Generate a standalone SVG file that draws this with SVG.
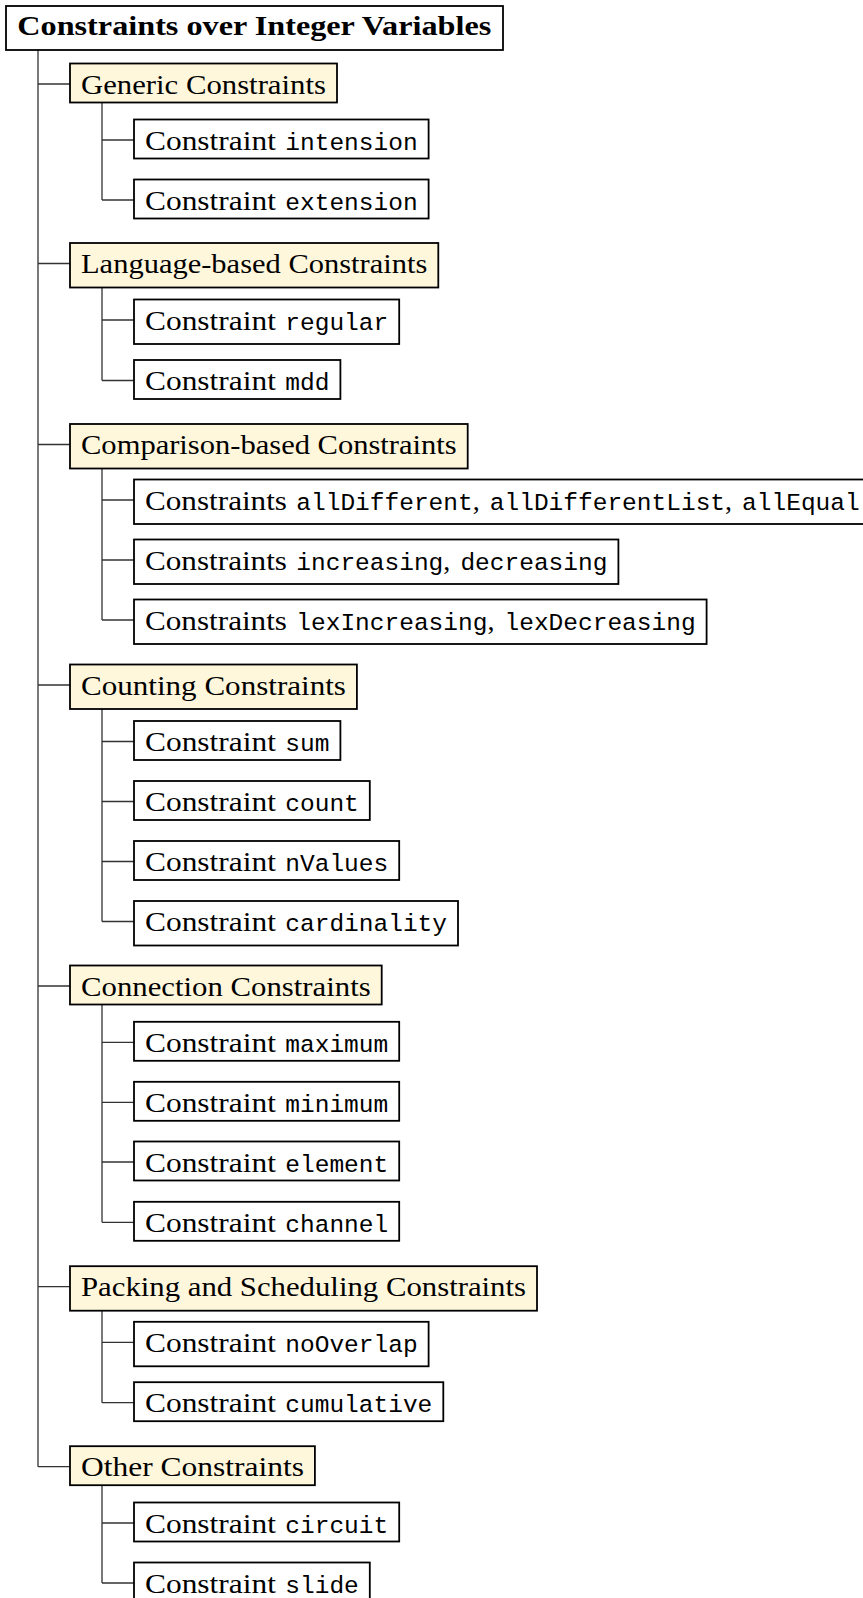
<svg xmlns="http://www.w3.org/2000/svg" width="863" height="1598" viewBox="0 0 863 1598">
<style>
g rect{stroke:#000;stroke-width:1.8}
.root rect,.leaf rect{fill:#fff}
.cat rect{fill:#FFF7DC}
text{fill:#000}
.s{font-family:"Liberation Serif","Times New Roman",serif;font-size:28px}
.b{font-family:"Liberation Serif","Times New Roman",serif;font-size:28px;font-weight:bold}
.m{font-family:"Liberation Mono","Courier New",monospace;font-size:24.5px}
#connectors path{fill:none;stroke:#333;stroke-width:1.3}
</style>
<rect width="863" height="1598" fill="#fff"/>
<g id="connectors">
<path d="M38 50V1466.7 M38 84H70 M38 263.5H70 M38 444.5H70 M38 685H70 M38 986H70 M38 1286.7H70 M38 1466.7H70"/>
<path d="M102 102.5V200 M102 140H134 M102 200H134"/>
<path d="M102 287.5V380.5 M102 320H134 M102 380.5H134"/>
<path d="M102 468.5V620 M102 500H134 M102 560H134 M102 620H134"/>
<path d="M102 709V921.5 M102 741.5H134 M102 801.5H134 M102 861.5H134 M102 921.5H134"/>
<path d="M102 1004.5V1222.3 M102 1042.3H134 M102 1102.3H134 M102 1162H134 M102 1222.3H134"/>
<path d="M102 1310.7V1402.7 M102 1342.3H134 M102 1402.7H134"/>
<path d="M102 1485.2V1583 M102 1523H134 M102 1583H134"/>
</g>
<g id="root" class="root"><rect x="6" y="6" width="497" height="44"/><text class="b" x="17.3" y="35" textLength="474" lengthAdjust="spacingAndGlyphs">Constraints over Integer Variables</text></g>

<g id="generic" class="cat"><rect x="70" y="63.5" width="267" height="39"/><text class="s" x="81" y="93.5" textLength="244.9" lengthAdjust="spacingAndGlyphs">Generic Constraints</text></g>
<g id="intension" class="leaf"><rect x="134" y="119.5" width="294.6" height="39"/><text class="s" x="145" y="149.5" textLength="130.9" lengthAdjust="spacingAndGlyphs">Constraint</text><text class="m" x="285.3" y="149.5">intension</text></g>
<g id="extension" class="leaf"><rect x="134" y="179.5" width="294.6" height="39"/><text class="s" x="145" y="209.5" textLength="130.9" lengthAdjust="spacingAndGlyphs">Constraint</text><text class="m" x="285.3" y="209.5">extension</text></g>

<g id="language" class="cat"><rect x="70" y="243" width="368.3" height="44.5"/><text class="s" x="81" y="273" textLength="346.3" lengthAdjust="spacingAndGlyphs">Language-based Constraints</text></g>
<g id="regular" class="leaf"><rect x="134" y="299.5" width="265.2" height="44.5"/><text class="s" x="145" y="329.5" textLength="130.9" lengthAdjust="spacingAndGlyphs">Constraint</text><text class="m" x="285.3" y="329.5">regular</text></g>
<g id="mdd" class="leaf"><rect x="134" y="360" width="206.4" height="39"/><text class="s" x="145" y="390" textLength="130.9" lengthAdjust="spacingAndGlyphs">Constraint</text><text class="m" x="285.3" y="390">mdd</text></g>

<g id="comparison" class="cat"><rect x="70" y="424" width="397.7" height="44.5"/><text class="s" x="81" y="454" textLength="375.7" lengthAdjust="spacingAndGlyphs">Comparison-based Constraints</text></g>
<g id="alldifferent" class="leaf"><rect x="134" y="479.5" width="736.7" height="44.5"/><text class="s" x="145" y="509.5" textLength="142" lengthAdjust="spacingAndGlyphs">Constraints</text><text class="m" x="296.3" y="509.5">allDifferent</text><text class="s" x="472.7" y="509.5">,</text><text class="m" x="489.8" y="509.5">allDifferentList</text><text class="s" x="725" y="509.5">,</text><text class="m" x="742.1" y="509.5">allEqual</text></g>
<g id="increasing" class="leaf"><rect x="134" y="539.5" width="484.4" height="44.5"/><text class="s" x="145" y="569.5" textLength="142" lengthAdjust="spacingAndGlyphs">Constraints</text><text class="m" x="296.3" y="569.5">increasing</text><text class="s" x="443.3" y="569.5">,</text><text class="m" x="460.4" y="569.5">decreasing</text></g>
<g id="lex" class="leaf"><rect x="134" y="599.5" width="572.6" height="44.5"/><text class="s" x="145" y="629.5" textLength="142" lengthAdjust="spacingAndGlyphs">Constraints</text><text class="m" x="296.3" y="629.5">lexIncreasing</text><text class="s" x="487.4" y="629.5">,</text><text class="m" x="504.5" y="629.5">lexDecreasing</text></g>

<g id="counting" class="cat"><rect x="70" y="664.5" width="286.9" height="44.5"/><text class="s" x="81" y="694.5" textLength="264.9" lengthAdjust="spacingAndGlyphs">Counting Constraints</text></g>
<g id="sum" class="leaf"><rect x="134" y="721" width="206.4" height="39"/><text class="s" x="145" y="751" textLength="130.9" lengthAdjust="spacingAndGlyphs">Constraint</text><text class="m" x="285.3" y="751">sum</text></g>
<g id="count" class="leaf"><rect x="134" y="781" width="235.8" height="39"/><text class="s" x="145" y="811" textLength="130.9" lengthAdjust="spacingAndGlyphs">Constraint</text><text class="m" x="285.3" y="811">count</text></g>
<g id="nvalues" class="leaf"><rect x="134" y="841" width="265.2" height="39"/><text class="s" x="145" y="871" textLength="130.9" lengthAdjust="spacingAndGlyphs">Constraint</text><text class="m" x="285.3" y="871">nValues</text></g>
<g id="cardinality" class="leaf"><rect x="134" y="901" width="324" height="44.5"/><text class="s" x="145" y="931" textLength="130.9" lengthAdjust="spacingAndGlyphs">Constraint</text><text class="m" x="285.3" y="931">cardinality</text></g>

<g id="connection" class="cat"><rect x="70" y="965.5" width="311.7" height="39"/><text class="s" x="81" y="995.5" textLength="289.7" lengthAdjust="spacingAndGlyphs">Connection Constraints</text></g>
<g id="maximum" class="leaf"><rect x="134" y="1021.8" width="265.2" height="39"/><text class="s" x="145" y="1051.8" textLength="130.9" lengthAdjust="spacingAndGlyphs">Constraint</text><text class="m" x="285.3" y="1051.8">maximum</text></g>
<g id="minimum" class="leaf"><rect x="134" y="1081.8" width="265.2" height="39"/><text class="s" x="145" y="1111.8" textLength="130.9" lengthAdjust="spacingAndGlyphs">Constraint</text><text class="m" x="285.3" y="1111.8">minimum</text></g>
<g id="element" class="leaf"><rect x="134" y="1141.5" width="265.2" height="39"/><text class="s" x="145" y="1171.5" textLength="130.9" lengthAdjust="spacingAndGlyphs">Constraint</text><text class="m" x="285.3" y="1171.5">element</text></g>
<g id="channel" class="leaf"><rect x="134" y="1201.8" width="265.2" height="39"/><text class="s" x="145" y="1231.8" textLength="130.9" lengthAdjust="spacingAndGlyphs">Constraint</text><text class="m" x="285.3" y="1231.8">channel</text></g>

<g id="packing" class="cat"><rect x="70" y="1266.2" width="467" height="44.5"/><text class="s" x="81" y="1296.2" textLength="445" lengthAdjust="spacingAndGlyphs">Packing and Scheduling Constraints</text></g>
<g id="nooverlap" class="leaf"><rect x="134" y="1321.8" width="294.6" height="44.5"/><text class="s" x="145" y="1351.8" textLength="130.9" lengthAdjust="spacingAndGlyphs">Constraint</text><text class="m" x="285.3" y="1351.8">noOverlap</text></g>
<g id="cumulative" class="leaf"><rect x="134" y="1382.2" width="309.3" height="39"/><text class="s" x="145" y="1412.2" textLength="130.9" lengthAdjust="spacingAndGlyphs">Constraint</text><text class="m" x="285.3" y="1412.2">cumulative</text></g>

<g id="other" class="cat"><rect x="70" y="1446.2" width="244.9" height="39"/><text class="s" x="81" y="1476.2" textLength="222.9" lengthAdjust="spacingAndGlyphs">Other Constraints</text></g>
<g id="circuit" class="leaf"><rect x="134" y="1502.5" width="265.2" height="39"/><text class="s" x="145" y="1532.5" textLength="130.9" lengthAdjust="spacingAndGlyphs">Constraint</text><text class="m" x="285.3" y="1532.5">circuit</text></g>
<g id="slide" class="leaf"><rect x="134" y="1562.5" width="235.8" height="39"/><text class="s" x="145" y="1592.5" textLength="130.9" lengthAdjust="spacingAndGlyphs">Constraint</text><text class="m" x="285.3" y="1592.5">slide</text></g>
</svg>
